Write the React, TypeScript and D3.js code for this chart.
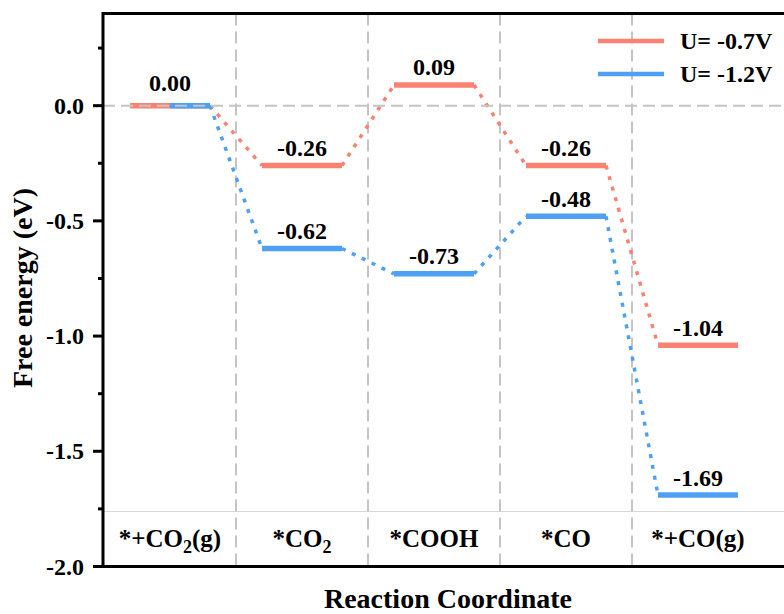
import React from "react";
import * as d3 from "d3";

const categories = ["*+CO2(g)", "*CO2", "*COOH", "*CO", "*+CO(g)"];
const seriesNames = ["U= -0.7V", "U= -1.2V"];
const valuesLow = [0.0, -0.26, 0.09, -0.26, -1.04];
const valuesHigh = [0.0, -0.62, -0.73, -0.48, -1.69];
const yTicks = [0.0, -0.5, -1.0, -1.5, -2.0];
const yMinorTicks = [0.25, -0.25, -0.75, -1.25, -1.75];

const W = 784;
const H = 614;
const FONT = "Liberation Serif, Tinos, Times New Roman, Times, DejaVu Serif, serif";
const RED = "#FA8272";
const BLUE = "#4DA0F2";
const GRAY = "#c4c4c4";
const txt = { fontFamily: FONT, fontWeight: 700 as const };

function CatLabel({ text, x, y }: { text: string; x: number; y: number }) {
  const idx = text.indexOf("CO2");
  if (idx < 0) {
    return (
      <text x={x} y={y} textAnchor="middle" style={txt} fontSize={25}>
        {text}
      </text>
    );
  }
  const before = text.slice(0, idx + 2);
  const after = text.slice(idx + 3);
  return (
    <text x={x} y={y} textAnchor="middle" style={txt} fontSize={25}>
      <tspan>{before}</tspan>
      <tspan dy={6} fontSize={18}>
        2
      </tspan>
      {after.length > 0 && <tspan dy={-6}>{after}</tspan>}
    </text>
  );
}

export default function App() {
  const left = 103;
  const right = 790;
  const y = d3.scaleLinear().domain([-2.0, 0.4]).range([566.5, 13.5]);
  const x = d3.scaleBand<string>().domain(categories).range([104, 764]).padding(0);
  const cx = (c: string) => (x(c) as number) + x.bandwidth() / 2;
  const half = 40;
  const bandTop = 511.5;

  const series = [
    { name: seriesNames[0], values: valuesLow, color: RED },
    { name: seriesNames[1], values: valuesHigh, color: BLUE },
  ];

  const separators = categories.slice(1).map((c) => x(c) as number);

  return (
    <svg width={W} height={H} style={{ position: "absolute", left: 0, top: 0 }}>
      <rect x={0} y={0} width={W} height={H} fill="white" />
      <line x1={left} x2={right} y1={bandTop} y2={bandTop} stroke="#d8d8d8" strokeWidth={1.2} />
      {separators.map((sx, i) => (
        <line key={i} x1={sx} x2={sx} y1={y(0.4)} y2={y(-2.0)} stroke={GRAY} strokeWidth={2} strokeDasharray="12,6" />
      ))}
      {series.map((s, si) =>
        s.values.slice(0, -1).map((v, i) => (
          <line
            key={`c${si}-${i}`}
            x1={cx(categories[i]) + half}
            y1={y(v)}
            x2={cx(categories[i + 1]) - half}
            y2={y(s.values[i + 1])}
            stroke={s.color}
            strokeWidth={3.5}
            strokeDasharray="4,7"
          />
        ))
      )}
      {series.map((s, si) =>
        s.values.map((v, i) => {
          const other = series[1 - si].values[i];
          const c = cx(categories[i]);
          let x1 = c - half;
          const x2 = c + half;
          if (si === 1 && other === v) x1 = c;
          return (
            <line key={`b${si}-${i}`} x1={x1} x2={x2} y1={y(v)} y2={y(v)} stroke={s.color} strokeWidth={5.5} />
          );
        })
      )}
      <line x1={left} x2={right} y1={y(0)} y2={y(0)} stroke={GRAY} strokeWidth={2} strokeDasharray="12,6" />
      {series.map((s, si) =>
        s.values.map((v, i) => {
          if (si === 1 && series[0].values[i] === v) return null;
          return (
            <text
              key={`t${si}-${i}`}
              x={cx(categories[i])}
              y={y(v) - (v === 0 ? 15 : 9.5)}
              textAnchor="middle"
              style={txt}
              fontSize={24}
            >
              {v.toFixed(2)}
            </text>
          );
        })
      )}
      {categories.map((c) => (
        <CatLabel key={c} text={c} x={cx(c)} y={546.5} />
      ))}
      <line x1={left} x2={right} y1={y(0.4)} y2={y(0.4)} stroke="black" strokeWidth={3} />
      <line x1={93} x2={right} y1={y(-2.0)} y2={y(-2.0)} stroke="black" strokeWidth={3} />
      <line x1={left} x2={left} y1={y(0.4) - 1.5} y2={y(-2.0) + 1.5} stroke="black" strokeWidth={3} />
      {yTicks.map((t) => (
        <g key={t}>
          <line x1={93} x2={left} y1={y(t)} y2={y(t)} stroke="black" strokeWidth={3} />
          <text x={84} y={y(t) + 8} textAnchor="end" style={txt} fontSize={24}>
            {t.toFixed(1)}
          </text>
        </g>
      ))}
      {yMinorTicks.map((t) => (
        <line key={t} x1={98} x2={left} y1={y(t)} y2={y(t)} stroke="black" strokeWidth={3} />
      ))}
      <text transform="translate(32,288) rotate(-90)" textAnchor="middle" style={txt} fontSize={28}>
        Free energy (eV)
      </text>
      <text x={448} y={608} textAnchor="middle" style={txt} fontSize={28}>
        Reaction Coordinate
      </text>
      {series.map((s, i) => (
        <g key={s.name}>
          <line x1={598} x2={664} y1={41 + i * 33} y2={41 + i * 33} stroke={s.color} strokeWidth={4.5} />
          <text x={680} y={49 + i * 33} style={txt} fontSize={24}>
            {s.name}
          </text>
        </g>
      ))}
    </svg>
  );
}
